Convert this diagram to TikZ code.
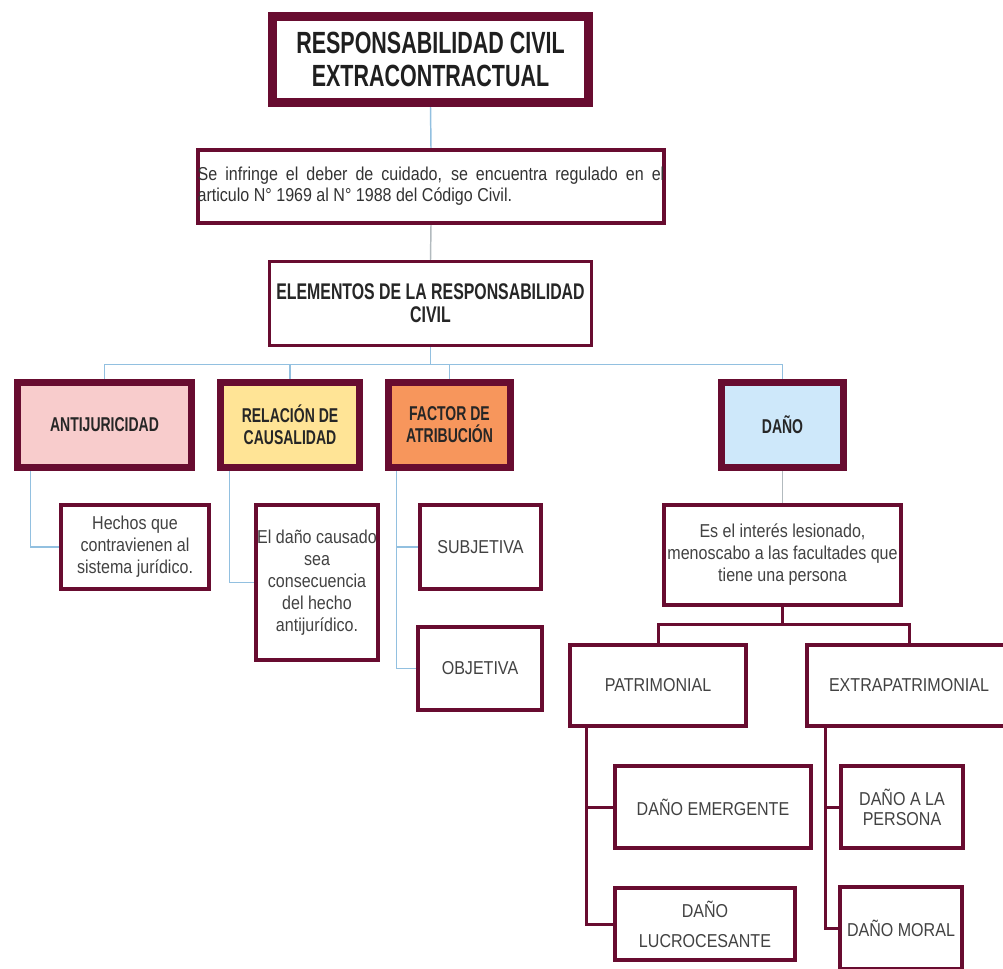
\documentclass[tikz,border=0pt]{standalone}
\usepackage{fontspec}
\setmainfont{Liberation Sans}[FakeStretch=0.86]
\newfontfamily\narrowsans{Liberation Sans}[FakeStretch=0.7]
\usetikzlibrary{positioning,backgrounds}
\definecolor{WineRed}{RGB}{104,12,48}
\definecolor{LinkBlue}{RGB}{146,192,224}
\definecolor{LinkGrey}{RGB}{178,186,190}
\definecolor{PinkFill}{RGB}{248,204,204}
\definecolor{SandFill}{RGB}{255,228,150}
\definecolor{OrangeFill}{RGB}{247,150,92}
\definecolor{SkyFill}{RGB}{206,232,250}
\definecolor{InkGrey}{RGB}{66,66,66}
\tikzset{
  boxsize/.style 2 args={minimum width=#1*0.75pt,minimum height=#2*0.75pt},
  titlebox/.style={draw=WineRed,line width=6.75pt,fill=white,inner sep=0pt,align=center,
    font=\narrowsans\bfseries\fontsize{23pt}{24.75pt}\selectfont,text=black!88},
  notebox/.style={draw=WineRed,line width=3pt,fill=white,inner sep=0pt,align=center,
    font=\fontsize{14pt}{16.5pt}\selectfont,text=InkGrey},
  headbox/.style={draw=WineRed,line width=5.25pt,inner sep=0pt,align=center,
    font=\narrowsans\bfseries\fontsize{15pt}{16.5pt}\selectfont,text=black!85},
  leafbox/.style={notebox,line width=2.6pt},
  link/.style={draw=LinkBlue,line width=1.1pt},
  greylink/.style={draw=LinkGrey,line width=1.1pt},
  winelink/.style={draw=WineRed,line width=2.25pt}
}

\begin{document}
\begin{tikzpicture}[x=0.75pt,y=-0.75pt]
  \useasboundingbox (0,0) rectangle (1003,968);
  \clip (0,0) rectangle (1003,968);

  \node[titlebox,boxsize={316}{86}] (title) at (430.5,59.5) {RESPONSABILIDAD CIVIL\\EXTRACONTRACTUAL};
  \node[notebox,boxsize={464}{73},text width=350pt,align=justify,text=black!80,
    font=\fontsize{14pt}{15.75pt}\selectfont] (rule) at (431,186.5)
    {Se infringe el deber de cuidado, se encuentra regulado en el\linebreak articulo N° 1969 al N° 1988 del Código Civil.};
  \node[notebox,line width=2.25pt,boxsize={322}{84},text=black!85,
    font=\narrowsans\bfseries\fontsize{17pt}{17.25pt}\selectfont] (elements) at (430.5,303.5)
    {ELEMENTOS DE LA RESPONSABILIDAD\\CIVIL};

  \node[headbox,fill=PinkFill,boxsize={174}{85}] (antij) at (104.5,425) {ANTIJURICIDAD};
  \node[headbox,fill=SandFill,boxsize={139}{85}] (causal) at (290,425) {RELACIÓN DE\\CAUSALIDAD};
  \node[headbox,fill=OrangeFill,boxsize={122}{85}] (factor) at (449.5,425) {FACTOR DE\\ATRIBUCIÓN};
  \node[headbox,fill=SkyFill,boxsize={122}{85}] (dano) at (782.5,425) {DAÑO};

  \node[notebox,boxsize={148}{84}] (hechos) at (135,547) {Hechos que\\contravienen al\\sistema jurídico.};
  \node[notebox,boxsize={122}{155}] (causado) at (317,582.5) {El daño causado\\sea\\consecuencia\\del hecho\\antijurídico.};
  \node[notebox,boxsize={121}{84}] (subj) at (480.5,547) {SUBJETIVA};
  \node[notebox,boxsize={124}{83}] (obj) at (480,668.5) {OBJETIVA};
  \node[notebox,boxsize={237}{100}] (lesion) at (782.5,555) {Es el interés lesionado,\\menoscabo a las facultades que\\tiene una persona};

  \node[leafbox,boxsize={176}{81}] (patri) at (658,685.5) {PATRIMONIAL};
  \node[leafbox,boxsize={204}{81}] (extra) at (909,685.5) {EXTRAPATRIMONIAL};
  \node[leafbox,boxsize={196}{82}] (emerg) at (713,807) {DAÑO EMERGENTE};
  \node[leafbox,boxsize={180}{72},font=\fontsize{14pt}{22.5pt}\selectfont] (lucro) at (705,924) {DAÑO\\LUCROCESANTE};
  \node[leafbox,boxsize={122}{82},font=\fontsize{14pt}{15pt}\selectfont] (persona) at (902,807) {DAÑO A LA\\PERSONA};
  \node[leafbox,boxsize={122}{82}] (moral) at (901,928) {DAÑO MORAL};

  \begin{scope}[on background layer]
    \draw[link] (title.south) -- (rule.north);
    \draw[greylink] (rule.south) -- (elements.north);
    \draw[link] (elements.south) -- ++(0,17.5) -| (antij.north);
    \draw[link] (elements.south) -- ++(0,17.5) -| (causal.north);
    \draw[link] (elements.south) -- ++(0,17.5) -| (factor.north);
    \draw[link] (elements.south) -- ++(0,17.5) -| (dano.north);
    \draw[link] (antij.south west) ++(16.5,0) |- (hechos.west);
    \draw[link] (causal.south west) ++(12.5,0) |- (causado.west);
    \draw[link] (factor.south west) ++(11.5,0) |- (subj.west);
    \draw[link] (factor.south west) ++(11.5,0) |- (obj.west);
    \draw[greylink] (dano.south) -- (lesion.north);
    \draw[winelink] (lesion.south) -- ++(0,17.5) -| (patri.north);
    \draw[winelink] (lesion.south) -- ++(0,17.5) -| (extra.north);
    \draw[winelink] (patri.south west) ++(18.25,0) |- (emerg.west);
    \draw[winelink] (patri.south west) ++(18.25,0) |- (lucro.west);
    \draw[winelink] (extra.south west) ++(20.25,0) |- (persona.west);
    \draw[winelink] (extra.south west) ++(20.25,0) |- (moral.west);
  \end{scope}
\end{tikzpicture}
\end{document}
